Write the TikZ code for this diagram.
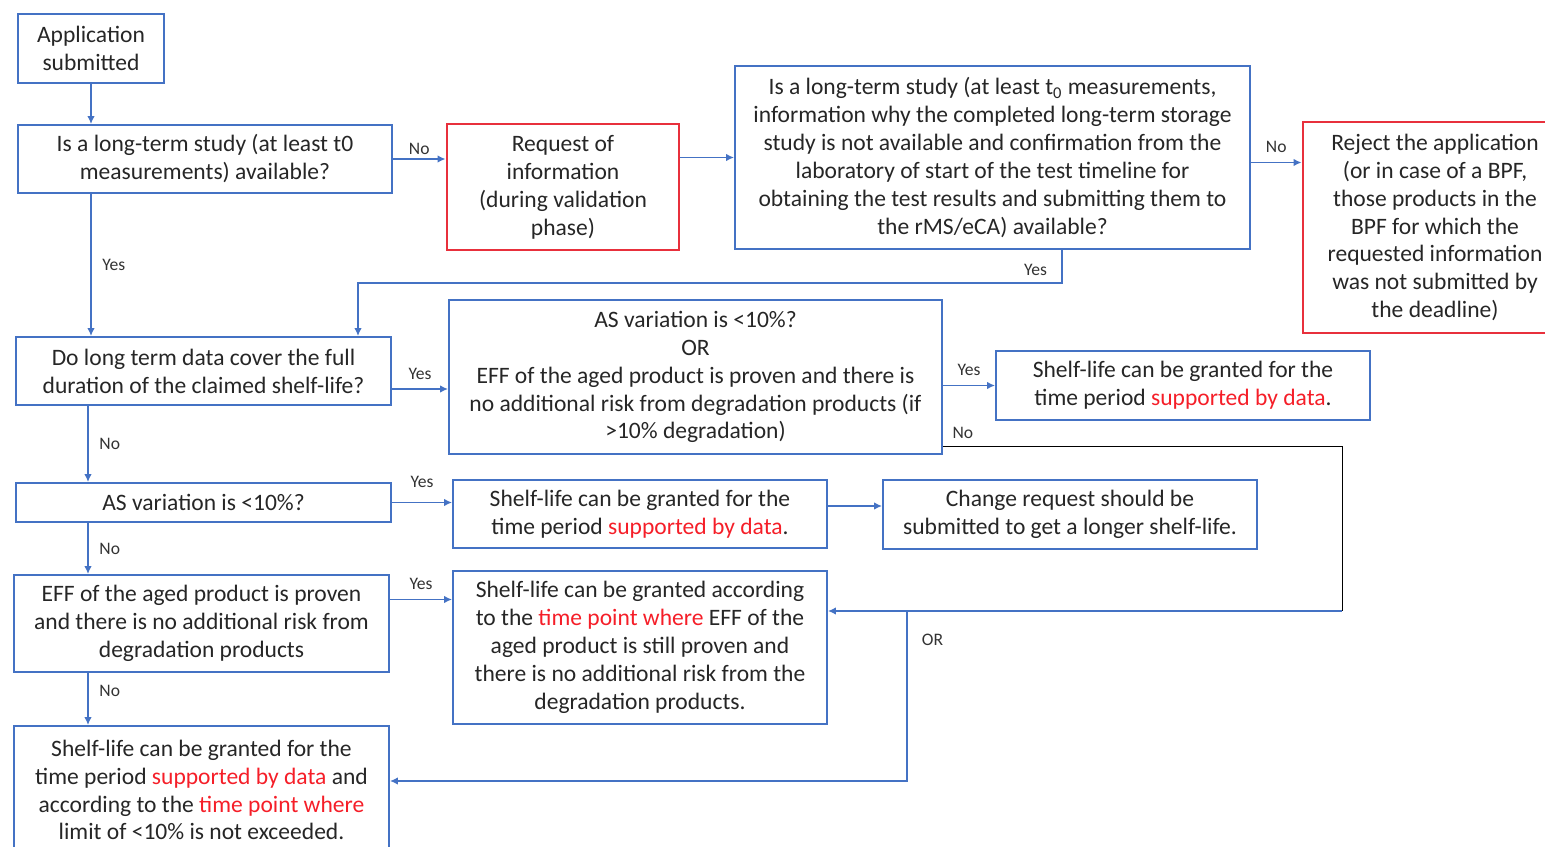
\documentclass[tikz,border=0pt]{standalone}
\usepackage{fontspec}
\setmainfont{Carlito}
\usepackage{tikz}
\usetikzlibrary{arrows.meta,positioning,calc}
\usepackage{xcolor}
\definecolor{lineblue}{RGB}{68,114,196}
\definecolor{boxred}{RGB}{232,48,60}
\definecolor{txtred}{RGB}{245,30,40}
\newcommand{\hl}[1]{\textcolor{txtred}{#1}}

\begin{document}
\begin{tikzpicture}[
    x=0.02cm, y=-0.02cm,
    sz/.style 2 args={
        minimum width=#1*0.02cm,
        minimum height=#2*0.02cm
    },
    box/.style={
        rectangle,
        draw=lineblue,
        line width=1pt,
        align=center,
        text=black!85,
        inner sep=2pt,
        font=\fontsize{13.4}{15.9}\selectfont
    },
    redbox/.style={
        box,
        draw=boxred,
        line width=1.6pt
    },
    lbl/.style={
        font=\fontsize{10}{12}\selectfont,
        text=black!80,
        inner sep=2pt
    },
    arrow/.style={-{Latex[length=1.6mm,width=1.5mm]}, draw=lineblue, line width=1pt}
]
\useasboundingbox (0,0) rectangle (1545,847);

\node[box, sz={146}{69}] (app) at (91,48.5) {Application\\submitted};
\node[box, sz={374}{68}] (q1) at (205,159) {Is a long-term study (at least t0\\measurements) available?};
\node[redbox, sz={232}{126}] (req) at (563,187) {Request of\\information\\(during validation\\phase)};
\node[box, sz={515}{183}] (q2) at (992.5,157.5) {Is a long-term study (at least t\textsubscript{0} measurements,\\information why the completed long-term storage\\study is not available and confirmation from the\\laboratory of start of the test timeline for\\obtaining the test results and submitting them to\\the rMS/eCA) available?};
\node[redbox, sz={264}{211}] (rej) at (1435,227.5) {Reject the application\\(or in case of a BPF,\\those products in the\\BPF for which the\\requested information\\was not submitted by\\the deadline)};

\node[box, sz={375}{68}] (q3) at (203.5,371) {Do long term data cover the full\\duration of the claimed shelf-life?};
\node[box, sz={493}{154}] (q4) at (695.5,377) {AS variation is <10\%?\\OR\\EFF of the aged product is proven and there is\\no additional risk from degradation products (if\\>10\% degradation)};
\node[box, sz={374}{69}] (s1) at (1183,385.5) {Shelf-life can be granted for the\\time period \hl{supported by data}.};

\node[box, sz={375}{39}] (q5) at (203.5,502.5) {AS variation is <10\%?};
\node[box, sz={374}{68}] (s2) at (640,514) {Shelf-life can be granted for the\\time period \hl{supported by data}.};
\node[box, sz={374}{69}] (chg) at (1070,514.5) {Change request should be\\submitted to get a longer shelf-life.};

\node[box, sz={375}{97}] (q6) at (201.5,623.5) {EFF of the aged product is proven\\and there is no additional risk from\\degradation products};
\node[box, sz={374}{153}] (s3) at (640,647.5) {Shelf-life can be granted according\\to the \hl{time point where} EFF of the\\aged product is still proven and\\there is no additional risk from the\\degradation products.};
\node[box, sz={375}{128}] (s4) at (201.5,790) {Shelf-life can be granted for the\\time period \hl{supported by data} and\\according to the \hl{time point where}\\limit of <10\% is not exceeded.};

\coordinate (sp) at (88,0);
\coordinate (c1) at (1062,283);
\coordinate (c2) at (358,283);
\coordinate (c3) at (1342,446);
\coordinate (c4) at (1342,611);
\coordinate (c5) at (907,611);
\coordinate (c6) at (907,781);

\draw[arrow] (app.south) -- (app.south |- q1.north);
\draw[arrow] (q1.east) -- node[lbl, above] (l1) {No} (q1.east -| req.west);
\draw[arrow] (req.east |- q2.west) -- (q2.west);
\draw[arrow] ($(q2.east)+(0,5)$) -- node[lbl, above=3pt] (l2) {No} ($(q2.east -| rej.west)+(0,5)$);
\draw[arrow] (app.south |- q1.south) -- node[lbl, right=4pt] (l3) {Yes} (app.south |- q3.north);
\draw[arrow] (c1 |- q2.south) -- node[lbl, left=6pt, pos=0.6] (l4) {Yes} (c1) -- (c2) -- (c2 |- q3.north);

\draw[arrow] ($(q3.east)+(0,18)$) -- node[lbl, above=3pt] (l5) {Yes} ($(q3.east -| q4.west)+(0,18)$);
\draw[arrow] (q4.east |- s1.west) -- node[lbl, above=3pt] (l6) {Yes} (s1.west);
\draw (q4.east |- c3) -- node[lbl, above=2pt, pos=0.05] (l7) {No} (c3) -- (c4);
\draw[arrow] (c4) -- (c4 -| s3.east);
\draw[arrow] (c5) -- node[lbl, right=6pt, pos=0.17] (l8) {OR} (c6) -- (c6 -| s4.east);

\draw[arrow] (sp |- q3.south) -- node[lbl, right=4pt] (l9) {No} (sp |- q5.north);
\draw[arrow] (q5.east) -- node[lbl, above=6pt] (l10) {Yes} (q5.east -| s2.west);
\draw[arrow] ($(s2.east)+(0,-8)$) -- ($(s2.east -| chg.west)+(0,-8)$);
\draw[arrow] (sp |- q5.south) -- node[lbl, right=4pt] (l11) {No} (sp |- q6.north);
\draw[arrow] ($(q6.east)+(0,-24)$) -- node[lbl, above=3pt] (l12) {Yes} ($(q6.east -| s3.west)+(0,-24)$);
\draw[arrow] (sp |- q6.south) -- node[lbl, right=4pt, pos=0.35] (l13) {No} (sp |- s4.north);

\end{tikzpicture}
\end{document}
